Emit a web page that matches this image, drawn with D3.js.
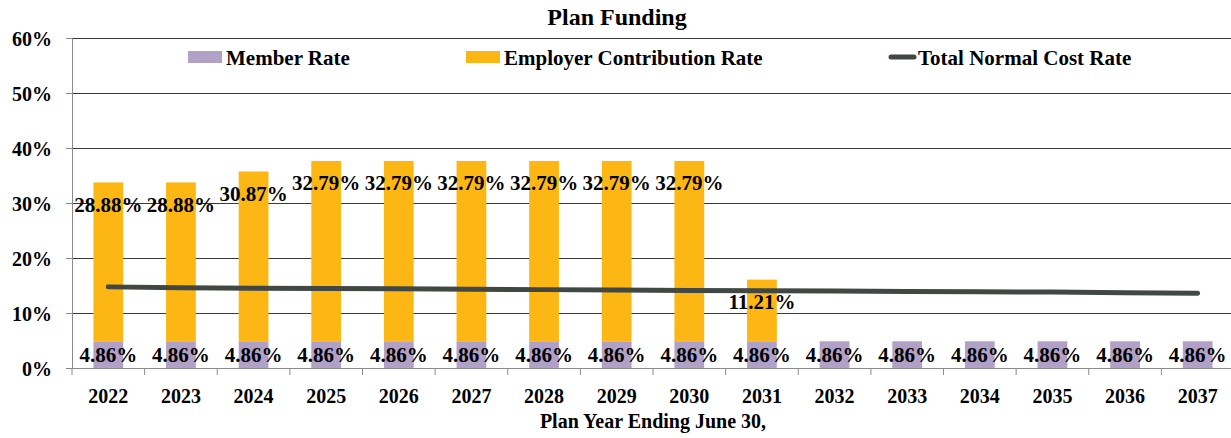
<!DOCTYPE html>
<html>
<head>
<meta charset="utf-8">
<script src="https://cdn.jsdelivr.net/npm/d3@7"></script>
<style>
  body { margin: 0; background: #fff; }
  text { font-family: 'Liberation Serif', 'Times New Roman', serif; font-weight: bold; fill: #000; }
</style>
</head>
<body>
<svg id="display" width="1231" height="438"></svg>
<script>
'use strict';
//data
var YEARS = ['2022', '2023', '2024', '2025', '2026', '2027', '2028', '2029',
  '2030', '2031', '2032', '2033', '2034', '2035', '2036', '2037'];
var MEMBER_RATE = [4.86, 4.86, 4.86, 4.86, 4.86, 4.86, 4.86, 4.86,
  4.86, 4.86, 4.86, 4.86, 4.86, 4.86, 4.86, 4.86];
var EMPLOYER_RATE = [28.88, 28.88, 30.87, 32.79, 32.79, 32.79, 32.79, 32.79,
  32.79, 11.21, 0, 0, 0, 0, 0, 0];
var NORMAL_COST = [14.75, 14.6, 14.5, 14.45, 14.4, 14.3, 14.25, 14.2,
  14.1, 14.05, 14.0, 13.9, 13.85, 13.8, 13.7, 13.6];
var Y_TICKS = [0, 10, 20, 30, 40, 50, 60];
var LEGEND = ['Member Rate', 'Employer Contribution Rate', 'Total Normal Cost Rate'];

//constants
var MARGINS = { top: 38, right: -3, bottom: 70, left: 72 };
var WIDTH = 1231;
var HEIGHT = 438;
var COLORS = { member: '#b2a1c7', employer: '#fdb714', line: '#414844' };

var svg = d3.select('#display');

var rows = YEARS.map(function(year, i) {
  return { year: year, member: MEMBER_RATE[i], employer: EMPLOYER_RATE[i], cost: NORMAL_COST[i] };
});

var x = d3.scaleBand()
  .domain(YEARS)
  .range([MARGINS.left, WIDTH - MARGINS.right]);

var y = d3.scaleLinear()
  .domain([0, 60])
  .range([HEIGHT - MARGINS.bottom, MARGINS.top]);

var barWidth = x.bandwidth() * 0.41;
function barX(d) { return x(d.year) + (x.bandwidth() - barWidth) / 2; }
function center(d) { return x(d.year) + x.bandwidth() / 2; }

//gridlines
svg.append('g')
  .attr('transform', 'translate(' + MARGINS.left + ',0)')
  .call(d3.axisLeft(y).tickValues(Y_TICKS.slice(1)).tickSize(-(WIDTH - MARGINS.left)).tickFormat(''))
  .call(function(g) { g.select('.domain').remove(); })
  .selectAll('line')
  .attr('stroke', '#3a3a3a')
  .attr('stroke-width', 1);

//bars
var stack = d3.stack().keys(['member', 'employer'])(rows);

svg.append('g')
  .selectAll('g')
  .data(stack)
  .enter()
  .append('g')
  .attr('fill', function(s) { return COLORS[s.key]; })
  .selectAll('rect')
  .data(function(s) { return s.filter(function(d) { return d[1] > d[0]; }); })
  .enter()
  .append('rect')
  .attr('x', function(d) { return barX(d.data); })
  .attr('width', barWidth)
  .attr('y', function(d) { return y(d[1]); })
  .attr('height', function(d) { return y(d[0]) - y(d[1]); });

//axes
var yAxis = svg.append('g')
  .attr('transform', 'translate(' + MARGINS.left + ',0)')
  .call(d3.axisLeft(y).tickValues(Y_TICKS).tickSize(6).tickPadding(14)
    .tickFormat(function(d) { return d + '%'; }));
yAxis.selectAll('line, .domain').attr('stroke', '#8a8a8a');
yAxis.selectAll('text').style('font-size', '20px').attr('dy', '0.36em');

var xAxis = svg.append('g')
  .attr('transform', 'translate(0,' + y(0) + ')')
  .call(d3.axisBottom(x).tickSize(0).tickPadding(21));
xAxis.select('.domain').attr('stroke', '#8a8a8a');
xAxis.selectAll('text').style('font-size', '20px');

xAxis.selectAll('.sep')
  .data(YEARS)
  .enter()
  .append('line')
  .attr('x1', function(d) { return x(d); })
  .attr('x2', function(d) { return x(d); })
  .attr('y1', 0)
  .attr('y2', 7)
  .attr('stroke', '#8a8a8a');

//normal cost line
var line = d3.line()
  .x(center)
  .y(function(d) { return y(d.cost); });

svg.append('path')
  .datum(rows)
  .attr('d', line)
  .attr('fill', 'none')
  .attr('stroke', COLORS.line)
  .attr('stroke-width', 5)
  .attr('stroke-linecap', 'round');

//labels
svg.append('g')
  .selectAll('text')
  .data(rows)
  .enter()
  .append('text')
  .attr('x', center)
  .attr('y', function(d) { return y(d.member / 2); })
  .attr('dy', '0.36em')
  .attr('text-anchor', 'middle')
  .style('font-size', '21px')
  .text(function(d) { return d.member.toFixed(2) + '%'; });

svg.append('g')
  .selectAll('text')
  .data(rows.filter(function(d) { return d.employer > 0; }))
  .enter()
  .append('text')
  .attr('x', center)
  .attr('y', function(d) { return y(d.member + d.employer) + 22; })
  .attr('dy', '0.36em')
  .attr('text-anchor', 'middle')
  .style('font-size', '21px')
  .text(function(d) { return d.employer.toFixed(2) + '%'; });

//title
svg.append('text')
  .attr('x', 617)
  .attr('y', 25)
  .attr('text-anchor', 'middle')
  .style('font-size', '24px')
  .text('Plan Funding');

svg.append('text')
  .attr('x', (MARGINS.left + WIDTH - MARGINS.right) / 2)
  .attr('y', 428)
  .attr('text-anchor', 'middle')
  .style('font-size', '20px')
  .text('Plan Year Ending June 30,');

//legend
var legendX = [188, 466, 888];
var legend = svg.append('g')
  .selectAll('g')
  .data(LEGEND)
  .enter()
  .append('g')
  .attr('transform', function(d, i) { return 'translate(' + legendX[i] + ',57)'; });

legend.filter(function(d, i) { return i < 2; })
  .append('rect')
  .attr('y', -6)
  .attr('width', 34)
  .attr('height', 12)
  .attr('fill', function(d, i) { return i === 0 ? COLORS.member : COLORS.employer; });

legend.filter(function(d, i) { return i === 2; })
  .append('line')
  .attr('x1', 3)
  .attr('x2', 26)
  .attr('stroke', COLORS.line)
  .attr('stroke-width', 5)
  .attr('stroke-linecap', 'round');

legend.append('text')
  .attr('x', function(d, i) { return i === 2 ? 30 : 38; })
  .attr('dy', '0.36em')
  .style('font-size', '21px')
  .text(function(d) { return d; });
</script>
</body>
</html>
